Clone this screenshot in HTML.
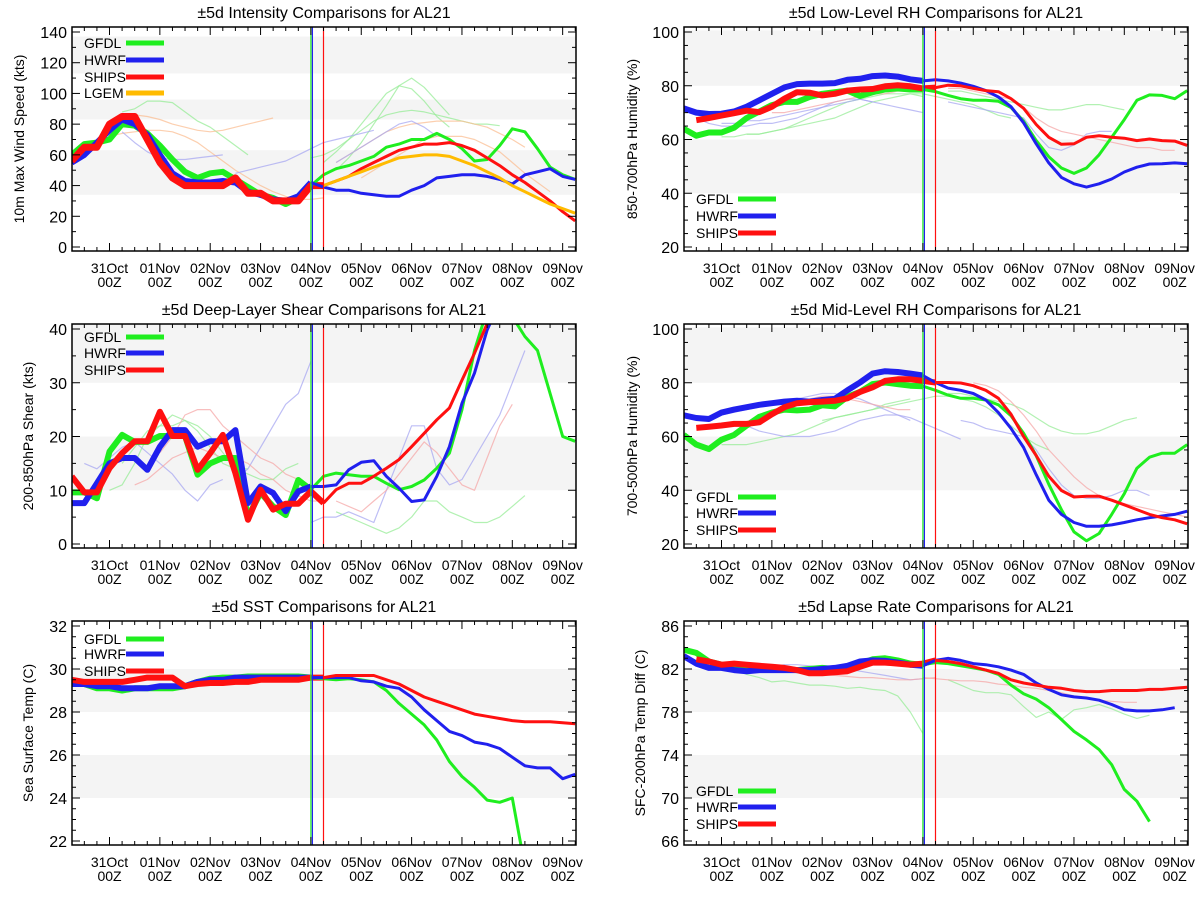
<!DOCTYPE html>
<html><head><meta charset="utf-8">
<style>
html,body{margin:0;padding:0;background:#fff;}
svg{display:block;font-family:"Liberation Sans",sans-serif;}
</style></head>
<body>
<svg id="chart" width="1200" height="900" viewBox="0 0 1200 900" xmlns="http://www.w3.org/2000/svg"></svg>
<script>
// ===== Data (days relative to 31Oct 00Z; 6-hourly values) =====
const dayTicks = [0,1,2,3,4,5,6,7,8,9];
const dayLabels = ["31Oct","01Nov","02Nov","03Nov","04Nov","05Nov","06Nov","07Nov","08Nov","09Nov"];
const hourLabel = "00Z";
const initDay = 4.0;
const shipsInitDay = 4.25;

// Panel 1: Intensity
const intTicks = [0,20,40,60,80,100,120,140];
const intBands = [[34,63],[83,96],[113,137]];
const intGfdlHist = [60,67,68,70,80,79,74,66,57,49,45,48,49,44,39,34,32,28,32,40];
const intGfdlFcst = [40,47,51,53,56,59,65,67,70,70,74,70,64,56,57,66,77,75,64,52,47,44];
const intHwrfHist = [55,60,68,76,83,80,73,60,48,43,42,42,43,42,36,34,31,30,33,42];
const intHwrfFcst = [42,39,37,37,35,34,33,33,37,40,45,46,47,47,46,44,41,47,49,51,46,44];
const intShipsHist = [56,65,65,80,85,85,70,55,45,40,40,40,40,45,35,35,30,30,30,40,40];
const intShipsFcst = [40,43,46,51,55,59,63,65,67,67,68,66,63,58,53,47,42,36,30,23,17];
const intLgemFcst = [40,43,46,49,52,55,58,59,60,60,59,56,53,49,45,40,36,32,28,25,22];
const intFaintG1 = [55,62,70,80,90,100,105,103,95,85,78];
const intFaintG2 = [50,58,68,80,92,105,110,104,95,86];
const intFaintG3 = [88,90,95,95,94,88,82,78,72,66,60];
const intFaintG4 = [58,60,64,70,76,82,86,88,89,88,86,84,82,80,80,79];
const intFaintO1 = [85,86,85,83,80,78,76,75,76,78,80,82,84];
const intFaintO2 = [55,60,65,70,75,78,80,81,82,82,82,80,78,74,70,65];
const intFaintO3 = [45,50,55,60,65,70,72,72,72,70,66,62,55,48,42,36];
const intFaintO4 = [72,74,75,76,76,75,72,68,62,56,50,45,40,36,33,31,31,32];
const intFaintB1 = [55,60,65,70,75,80,82,78,72];
const intFaintB2 = [75,68,62,58,57,57,58,59,60];
const intFaintB3 = [48,50,52,54,56,60,64,68,70,72,74,76];

// Panel 2: Low-level RH
const lrhTicks = [20,40,60,80,100];
const lrhBands = [[40,60],[80,100.6]];
const lrhGfdlHist = [64,61.4,62.6,62.6,64.4,68,70.4,72.8,74,74,75.8,77,77.6,78.2,76.2,77.6,78.6,79,78.6,78.6];
const lrhGfdlFcst = [78.6,77.8,76.4,75.2,74.6,74.6,74.2,71.9,66.8,59.6,53.6,49.4,47.4,49.4,54.3,60.8,67.4,74.6,76.6,76.4,75.2,78.2];
const lrhHwrfHist = [71.6,70,69.5,69.6,70.4,72.2,74.6,77,79.4,80.6,80.8,80.8,81,82.2,82.6,83.6,83.8,83.4,82.4,81.8];
const lrhHwrfFcst = [81.8,82.2,81.8,81,79.8,78.2,75.8,72.2,66.2,58.4,51.3,45.9,43.5,42.3,43.5,45.3,47.9,49.7,50.9,51,51.3,51];
const lrhShipsHist = [67.2,68,68.9,69.8,70.7,70.2,72.2,75.2,77.6,77.4,76.4,77,78.2,78.6,78.8,79.8,80.2,79.8,79,79.3];
const lrhShipsFcst = [79.3,80.2,80,79,78.2,77.8,75.2,71.6,65.6,60.8,58.2,58.4,60.8,61.4,60.8,60.5,59.6,60.2,59.6,59.4,57.8];
const lrhFaintG1 = [61,61,62,62,63,64,66,68,70,72,74,75,76,77,77,77,76];
const lrhFaintG2 = [78,78,77,76,75,74,73,72,71,71,72,73,73,72,71];
const lrhFaintG3 = [62,62,63,64,65,66,67,68,70,72,74,75,76,77,77,76,75,74,73,71,69,68];
const lrhFaintB1 = [66,66,67,67,68,69,70,71,72,73,74,75,74,73,72,71,70];
const lrhFaintB2 = [74,73,72,71,70,69,68,62,57,56,58,62,63,63];
const lrhFaintB3 = [68,66,65,65,65,66,66,67,68,70,72,74,75,75,74];
const lrhFaintR1 = [79,79,78,77,76,75,72,68,65,63,62,61,60,59,58,57,57,56,56];
const lrhFaintR2 = [70,70,71,72,73,74,75,76,77,77,78,78];

// Panel 3: Deep-layer shear
const shrTicks = [0,10,20,30,40];
const shrBands = [[10,20],[30,41]];
const shrGfdlHist = [9.6,9.6,8.5,17.2,20.3,19,19,20.1,20.1,20.1,12.9,15,16,16,5.1,9.5,7,5.4,11.9,10.1];
const shrGfdlFcst = [10.1,12.6,13.2,12.9,12.6,12.6,11.3,10.1,10.7,11.9,14.1,16.9,25,36,43.5,46,42.3,38.6,36,28,20,19.1];
const shrHwrfHist = [7.6,7.6,11.3,15,16,16,13.8,18.1,21.2,21.2,18.1,19.1,19.1,21.2,7.6,10.7,9.5,6.1,9.8,10.7];
const shrHwrfFcst = [10.7,10.7,11,13.8,15.2,15.5,12.6,10.4,7.9,8.2,12.6,18.1,26.2,31.8,39.8,45];
const shrShipsHist = [12.6,9.6,9.6,14.1,16.9,19.1,19.1,24.6,20.1,20.1,13.8,16.9,20.3,13.2,4.5,10.1,6.4,7.5,7.5,9.8,7.6];
const shrShipsFcst = [7.6,10.1,11.3,11.3,12.6,14.1,15.7,18.1,20.6,23.1,25.3,30.5,35.5,41];
const shrFaintG1 = [15,18,21,22,22,23,22,20,17,14,13,12,12,14,15];
const shrFaintG2 = [6,5,4,3,2,3,5,8,8,6,5,4,4,5,7,9];
const shrFaintG3 = [10,11,15,20,22,24,23,21,18,15,14,14];
const shrFaintB1 = [12,14,18,22,26,28,34];
const shrFaintB2 = [4,5,5,6,5,4,10,16,22,22,14,11,12,16,20,24,30,36];
const shrFaintB3 = [15,14,16,18,19,17,15,13,10,8,11,12];
const shrFaintR1 = [17,20,24,25,25,22,20,18,16,15,13,12];
const shrFaintR2 = [8,7,6,8,10,13,16,19,17,14,11,10,16,22,26];
const shrFaintR3 = [11,12,14,16,17,18,17,16,16,15,13,12,10,9,8,8];

// Panel 4: Mid-level RH
const mrhTicks = [20,40,60,80,100];
const mrhBands = [[40,60],[80,100.6]];
const mrhGfdlHist = [60.6,57,55.3,58.8,60.6,64.1,67.3,68.9,70,69.7,70,71.6,71.2,74.8,76.6,79.5,80.1,79.5,78.9,78.7];
const mrhGfdlFcst = [78.7,77.2,75.4,74.2,74.2,73.6,71.8,67.7,61.2,52.9,42.2,32.8,24.5,21.2,23.9,31,38.7,48.2,52.3,53.8,53.8,57];
const mrhHwrfHist = [67.9,66.9,66.5,68.9,70,70.9,71.8,72.4,73,73.3,73,73.6,74,77.2,80.1,83.4,84.3,84,83.4,82.7];
const mrhHwrfFcst = [82.7,80.1,78,77.2,76,73.6,68.9,63,55.9,45.8,36.3,31,28,26.6,26.6,27.1,28,29,29.8,30.4,31,32.2];
const mrhShipsHist = [63.2,63.6,64.1,64.7,64.7,65.3,68.3,70.9,72.4,72.8,73,73.3,74.2,76.6,78.3,80.7,81.3,81.3,80.7,80.1];
const mrhShipsFcst = [80.1,80.1,79.9,78.9,77.2,74.2,68.3,60,52.9,45.2,39.9,37.5,37.8,37.8,36.3,34.6,32.8,31,29.8,29,27.5];
const mrhFaintG1 = [57,57,57,58,59,60,61,63,65,67,68,69,70,72,73,74];
const mrhFaintG2 = [76,76,75,74,73,72,70,67,64,62,61,61,62,64,66,67];
const mrhFaintG3 = [66,67,68,69,70,71,72,73,74,75,75,74,73,71,68,64,60,57,55];
const mrhFaintB1 = [64,62,61,60,60,60,61,62,64,66,67,68,68,67,65,63,61,59];
const mrhFaintB2 = [66,65,63,62,61,60,55,48,42,38,37,37,38,40,40,38];
const mrhFaintB3 = [68,69,70,71,72,73,74,75,76,76,75,74,72,70,68,66];
const mrhFaintR1 = [80,79,77,73,68,62,55,50,45,41,38,36,35,34,33,32,31,30];
const mrhFaintR2 = [72,72,73,74,75,75,74,73,72,71,70,70];

// Panel 5: SST
const sstTicks = [22,24,26,28,30,32];
const sstBands = [[24,26],[28,30]];
const sstGfdlHist = [29.3,29.3,29.1,29.1,29.0,29.1,29.1,29.1,29.1,29.2,29.4,29.55,29.6,29.6,29.65,29.65,29.65,29.65,29.65,29.6];
const sstGfdlFcst = [29.6,29.55,29.5,29.55,29.5,29.4,29.0,28.4,27.9,27.4,26.7,25.7,25.0,24.5,23.9,23.8,24.0,20.8];
const sstHwrfHist = [29.3,29.3,29.2,29.2,29.1,29.1,29.1,29.2,29.2,29.2,29.4,29.5,29.5,29.6,29.6,29.6,29.6,29.6,29.6,29.6];
const sstHwrfFcst = [29.6,29.6,29.6,29.6,29.45,29.4,29.2,29.1,28.7,28.1,27.6,27.1,26.9,26.6,26.5,26.3,25.9,25.5,25.4,25.4,24.9,25.1];
const sstShipsHist = [29.5,29.4,29.4,29.4,29.4,29.5,29.6,29.6,29.6,29.2,29.3,29.35,29.35,29.4,29.4,29.5,29.5,29.5,29.5,29.6,29.6];
const sstShipsFcst = [29.6,29.7,29.7,29.7,29.7,29.5,29.3,29.0,28.7,28.5,28.3,28.1,27.9,27.8,27.7,27.6,27.55,27.55,27.55,27.5,27.45];

// Panel 6: Lapse rate
const lapTicks = [66,70,74,78,82,86];
const lapBands = [[70,74],[78,82]];
const lapGfdlHist = [83.8,83.5,82.7,82.4,82.2,82.3,82.1,82.1,82.0,81.9,82,82.1,82,82.1,82.5,82.9,83,82.8,82.5,82.4];
const lapGfdlFcst = [82.4,82.6,82.5,82.3,82.1,81.9,81.5,80.5,79.7,79.2,78.4,77.3,76.2,75.4,74.5,73.1,70.8,69.7,67.8];
const lapHwrfHist = [83.2,82.5,82.1,82.1,81.9,81.8,81.9,81.9,81.9,81.9,81.9,82,82.1,82.3,82.7,82.8,82.75,82.6,82.4,82.3];
const lapHwrfFcst = [82.3,82.8,83,82.8,82.5,82.4,82.2,81.9,81.5,80.7,80.1,79.6,79.4,79.3,79.1,78.7,78.2,78.1,78.1,78.2,78.4];
const lapShipsHist = [82.9,82.7,82.4,82.5,82.4,82.3,82.2,82.1,81.9,81.6,81.6,81.7,81.8,82.2,82.6,82.6,82.5,82.4,82.5,82.8];
const lapShipsFcst = [82.8,82.7,82.5,82.2,81.9,81.6,81.0,80.7,80.5,80.3,80.2,80,79.9,79.9,80,80,80,80.1,80.1,80.2,80.3];
const lapFaintG1 = [82,81.5,81.2,80.8,80.9,80.7,80.5,80.5,80.4,80.2,80.3,80.1,80,79.5,78,76];
const lapFaintG2 = [81,80.5,80,79.8,79.8,79.6,78.5,77.5,78,77.3,78.2,78.4,78.7,78.3,77.8,77.4,77.7];
const lapFaintB1 = [82,81.8,82.2,82.4,82.4,82.3,82.2,82.1,82,81.8,81.6,81.4,81.2,81,81.1];
const lapFaintR1 = [81.2,81.1,81.0,80.9,80.9,80.8,80.6,80.5,80.3,80.2,80,79.8,79.5,79.3,79.1,79,78.9,78.9];
const lapFaintR2 = [82.2,82,81.8,81.6,81.5,81.4,81.3,81.2,81.2,81.1,81.0,81.0,81.1,81.2];

// ===== Rendering =====
const NS = "http://www.w3.org/2000/svg";
const svg = document.getElementById("chart");
const X0 = -0.745, X1 = 9.265;
const PW = 504;
const GREEN = "#1fee1f", BLUE = "#2020ee", RED = "#ff1010", ORANGE = "#ffbb00";
const FG = "#98ec98", FB = "#a8a8f2", FR = "#f6a8a8", FO = "#fbbf94";

function mk(tag, attrs, parent) {
  const e = document.createElementNS(NS, tag);
  for (const k in attrs) e.setAttribute(k, attrs[k]);
  (parent || svg).appendChild(e);
  return e;
}

function panel(cfg) {
  const g = mk("g", {});
  
  
  const L = cfg.left, R = cfg.left + PW, T = cfg.top, B = cfg.top + 224;
  const tMin = cfg.ticks[0], tMax = cfg.ticks[cfg.ticks.length - 1];
  const yMinPx = T + 220, yMaxPx = T + 5;
  const sx = d => L + (d - X0) * (R - L) / (X1 - X0);
  const sy = v => yMinPx - (v - tMin) * (yMinPx - yMaxPx) / (tMax - tMin);

  const clipId = "clip-" + cfg.name;
  const cp = mk("clipPath", { id: clipId }, g);
  mk("rect", { x: L, y: T, width: R - L, height: B - T }, cp);
  const plot = mk("g", { "clip-path": "url(#" + clipId + ")" }, g);
  
  

  cfg.bands.forEach(b => {
    const r = mk("rect", { x: L, y: sy(b[1]), width: R - L, height: sy(b[0]) - sy(b[1]), fill: "#f4f4f4" }, plot);
    
    
  });

  function line(vals, start, color, w, op, nm) {
    const pts = vals.map((v, i) => sx(start + i * 0.25).toFixed(1) + "," + sy(v).toFixed(1)).join(" ");
    const p = mk("polyline", { points: pts, fill: "none", stroke: color, "stroke-width": w, "stroke-linejoin": "round", opacity: op }, plot);
    
    
  }
  (cfg.faint || []).forEach(f => line(f[0], f[1], f[2], 1.2, 0.75, 'ensemble-faint-line'));
  cfg.series.forEach(s => {
    if (s.hist) line(s.hist, s.hs, s.color, s.hw || 6, 1, s.key + '-history-line');
  });
  cfg.series.forEach(s => {
    if (s.fcst) line(s.fcst, s.fs, s.color, 3, 1, s.key + '-forecast-line');
  });

  const vl = [[initDay, GREEN, 0], [initDay, BLUE, 1.5], [shipsInitDay, RED, 0]];
  vl.forEach(v => {
    const xx = sx(v[0]) + v[2];
    const l = mk("line", { x1: xx, x2: xx, y1: T, y2: B, stroke: v[1], "stroke-width": 1.2 }, g);
    
    
  });

  const fr = mk("rect", { x: L, y: T, width: R - L, height: B - T, fill: "none", stroke: "#000", "stroke-width": 1.5 }, g);
  
  

  const xt = mk("g", { stroke: "#000", "stroke-width": 1 }, g);
  
  
  for (let d = -0.5; d <= X1; d += 0.25) {
    const major = Math.abs(d - Math.round(d)) < 1e-6;
    const len = major ? 8 : 4;
    const x = sx(d);
    mk("line", { x1: x, x2: x, y1: B, y2: B - len }, xt);
    mk("line", { x1: x, x2: x, y1: T, y2: T + len }, xt);
  }
  dayTicks.forEach((d, i) => {
    const t1 = mk("text", { x: sx(d), y: B + 22, "text-anchor": "middle", "font-size": 14 }, g);
    t1.textContent = dayLabels[i];
    
    
    const t2 = mk("text", { x: sx(d), y: B + 36, "text-anchor": "middle", "font-size": 14 }, g);
    t2.textContent = hourLabel;
    
    
  });

  const yt = mk("g", { stroke: "#000", "stroke-width": 1 }, g);
  
  
  const step = cfg.ticks[1] - cfg.ticks[0];
  const minor = step / cfg.sub;
  for (let v = tMin; v <= tMax + 1e-6; v += minor) {
    const major = Math.abs((v - tMin) / step - Math.round((v - tMin) / step)) < 1e-6;
    const len = major ? 8 : 4;
    const y = sy(v);
    mk("line", { x1: L, x2: L + len, y1: y, y2: y }, yt);
    mk("line", { x1: R, x2: R - len, y1: y, y2: y }, yt);
  }
  cfg.ticks.forEach(v => {
    const t = mk("text", { x: L - 5, y: sy(v) + 6, "text-anchor": "end", "font-size": 16 }, g);
    t.textContent = String(v);
    
    
  });

  const tt = mk("text", { x: (L + R) / 2, y: T - 9, "text-anchor": "middle", "font-size": 16 }, g);
  tt.textContent = cfg.title;
  
  

  const cy = (T + B) / 2;
  const yl = mk("text", { x: cfg.ylx, y: cy, "text-anchor": "middle", "font-size": 14, transform: "rotate(-90 " + cfg.ylx + " " + cy + ")" }, g);
  yl.textContent = cfg.ylabel;
  
  

  const lg = mk("g", {}, g);
  
  
  cfg.legend.forEach((e, i) => {
    const y = cfg.legY[i];
    const t = mk("text", { x: L + cfg.legDx, y: y + 5, "font-size": 14 }, lg);
    t.textContent = e[0];
    
    
    const l = mk("line", { x1: L + cfg.legDx + 42, x2: L + cfg.legDx + 80, y1: y, y2: y, stroke: e[1], "stroke-width": 5 }, lg);
    
    
  });
}

const legend3 = [["GFDL", GREEN], ["HWRF", BLUE], ["SHIPS", RED]];

panel({ name: "intensity-panel", left: 72, top: 27, ticks: intTicks, sub: 2, bands: intBands,
  title: "±5d Intensity Comparisons for AL21", ylabel: "10m Max Wind Speed (kts)", ylx: 24,
  legend: [["GFDL", GREEN], ["HWRF", BLUE], ["SHIPS", RED], ["LGEM", ORANGE]], legDx: 12, legY: [43, 60, 77, 93],
  faint: [[intFaintG1, 4.25, FG], [intFaintG2, 4.5, FG], [intFaintG3, 0.25, FG], [intFaintG4, 4.0, FG], [intFaintO1, 0.25, FO], [intFaintO2, 4.5, FO], [intFaintO3, 5.0, FO], [intFaintO4, 0.0, FO], [intFaintB1, 4.5, FB], [intFaintB2, 0.25, FB], [intFaintB3, 2.5, FB]],
  series: [
    { key: "gfdl", color: GREEN, hist: intGfdlHist, hs: -0.75, fcst: intGfdlFcst, fs: 4.0 },
    { key: "hwrf", color: BLUE, hist: intHwrfHist, hs: -0.75, fcst: intHwrfFcst, fs: 4.0 },
    { key: "ships", color: RED, hist: intShipsHist, hs: -0.75, hw: 7, fcst: intShipsFcst, fs: 4.25 },
    { key: "lgem", color: ORANGE, fcst: intLgemFcst, fs: 4.25 }
  ] });

panel({ name: "low-level-rh-panel", left: 684, top: 27, ticks: lrhTicks, sub: 4, bands: lrhBands,
  title: "±5d Low-Level RH Comparisons for AL21", ylabel: "850-700hPa Humidity (%)", ylx: 637,
  legend: legend3, legDx: 12, legY: [199, 216, 233],
  faint: [[lrhFaintG1, 0.0, FG], [lrhFaintG2, 4.5, FG], [lrhFaintG3, 0.5, FG], [lrhFaintB1, 0.0, FB], [lrhFaintB2, 4.5, FB], [lrhFaintB3, -0.5, FB], [lrhFaintR1, 4.5, FR], [lrhFaintR2, 1.0, FR]],
  series: [
    { key: "gfdl", color: GREEN, hist: lrhGfdlHist, hs: -0.75, fcst: lrhGfdlFcst, fs: 4.0 },
    { key: "hwrf", color: BLUE, hist: lrhHwrfHist, hs: -0.75, fcst: lrhHwrfFcst, fs: 4.0 },
    { key: "ships", color: RED, hist: lrhShipsHist, hs: -0.5, fcst: lrhShipsFcst, fs: 4.25 }
  ] });

panel({ name: "shear-panel", left: 72, top: 324, ticks: shrTicks, sub: 2, bands: shrBands,
  title: "±5d Deep-Layer Shear Comparisons for AL21", ylabel: "200-850hPa Shear (kts)", ylx: 33,
  legend: legend3, legDx: 12, legY: [337, 353, 370],
  faint: [[shrFaintG1, 0.25, FG], [shrFaintG2, 4.5, FG], [shrFaintG3, 0.0, FG], [shrFaintB1, 2.5, FB], [shrFaintB2, 4.0, FB], [shrFaintB3, -0.5, FB], [shrFaintR1, 1.0, FR], [shrFaintR2, 4.5, FR], [shrFaintR3, 0.5, FR]],
  series: [
    { key: "gfdl", color: GREEN, hist: shrGfdlHist, hs: -0.75, fcst: shrGfdlFcst, fs: 4.0 },
    { key: "hwrf", color: BLUE, hist: shrHwrfHist, hs: -0.75, fcst: shrHwrfFcst, fs: 4.0 },
    { key: "ships", color: RED, hist: shrShipsHist, hs: -0.75, fcst: shrShipsFcst, fs: 4.25 }
  ] });

panel({ name: "mid-level-rh-panel", left: 684, top: 324, ticks: mrhTicks, sub: 4, bands: mrhBands,
  title: "±5d Mid-Level RH Comparisons for AL21", ylabel: "700-500hPa Humidity (%)", ylx: 637,
  legend: legend3, legDx: 12, legY: [497, 513, 530],
  faint: [[mrhFaintG1, 0.0, FG], [mrhFaintG2, 4.5, FG], [mrhFaintG3, 2.0, FG], [mrhFaintB1, 0.5, FB], [mrhFaintB2, 4.75, FB], [mrhFaintB3, 0.0, FB], [mrhFaintR1, 5.0, FR], [mrhFaintR2, 1.0, FR]],
  series: [
    { key: "gfdl", color: GREEN, hist: mrhGfdlHist, hs: -0.75, fcst: mrhGfdlFcst, fs: 4.0 },
    { key: "hwrf", color: BLUE, hist: mrhHwrfHist, hs: -0.75, fcst: mrhHwrfFcst, fs: 4.0 },
    { key: "ships", color: RED, hist: mrhShipsHist, hs: -0.5, fcst: mrhShipsFcst, fs: 4.25 }
  ] });

panel({ name: "sst-panel", left: 72, top: 621, ticks: sstTicks, sub: 4, bands: sstBands,
  title: "±5d SST Comparisons for AL21", ylabel: "Sea Surface Temp (C)", ylx: 33,
  legend: legend3, legDx: 12, legY: [639, 654, 671],
  series: [
    { key: "gfdl", color: GREEN, hist: sstGfdlHist, hs: -0.75, fcst: sstGfdlFcst, fs: 4.0 },
    { key: "hwrf", color: BLUE, hist: sstHwrfHist, hs: -0.75, fcst: sstHwrfFcst, fs: 4.0 },
    { key: "ships", color: RED, hist: sstShipsHist, hs: -0.75, fcst: sstShipsFcst, fs: 4.25 }
  ] });

panel({ name: "lapse-rate-panel", left: 684, top: 621, ticks: lapTicks, sub: 4, bands: lapBands,
  title: "±5d Lapse Rate Comparisons for AL21", ylabel: "SFC-200hPa Temp Diff (C)", ylx: 645,
  legend: legend3, legDx: 12, legY: [791, 807, 824],
  faint: [[lapFaintG1, 0.25, FG], [lapFaintG2, 4.5, FG], [lapFaintB1, 0.5, FB], [lapFaintR1, 4.0, FR], [lapFaintR2, 1.0, FR]],
  series: [
    { key: "gfdl", color: GREEN, hist: lapGfdlHist, hs: -0.75, fcst: lapGfdlFcst, fs: 4.0 },
    { key: "hwrf", color: BLUE, hist: lapHwrfHist, hs: -0.75, fcst: lapHwrfFcst, fs: 4.0 },
    { key: "ships", color: RED, hist: lapShipsHist, hs: -0.5, fcst: lapShipsFcst, fs: 4.25 }
  ] });
</script>
</body></html>
